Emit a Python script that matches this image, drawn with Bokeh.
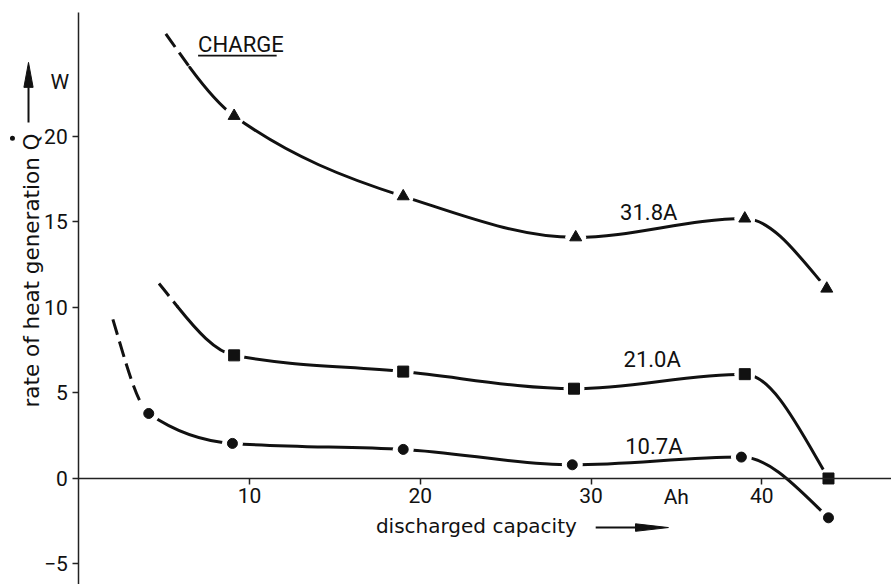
import numpy as np
from bokeh.plotting import figure
from bokeh.models import Range1d, FixedTicker
from bokeh.core.properties import value
from bokeh.embed import file_html
from bokeh.resources import INLINE

# ---------------- data ----------------
x_ticks = [10, 20, 30, 40]
y_ticks = [-5, 0, 5, 10, 15, 20]

cap_31_8 = [9.1, 19.0, 29.1, 39.0, 43.8]
heat_31_8 = [21.2, 16.5, 14.1, 15.2, 11.1]

cap_21_0 = [9.1, 19.0, 29.0, 39.0, 43.9]
heat_21_0 = [7.2, 6.25, 5.25, 6.1, 0.0]

cap_10_7 = [4.1, 9.0, 19.0, 28.9, 38.8, 43.9]
heat_10_7 = [3.8, 2.05, 1.7, 0.8, 1.25, -2.3]

# extrapolated (dashed) beginnings of the curves
ext_cap = [5.1, 4.7, 2.0]
ext_heat = [26.0, 11.4, 9.3]
dash_until = [6.5, 5.8, 4.1]

series_labels = ["31.8A", "21.0A", "10.7A"]
label_cap = [31.7, 31.9, 32.0]
label_heat = [15.15, 6.55, 1.46]

# ---------------- helpers ----------------
def pchip_slopes(x, y):
    x = np.asarray(x, float); y = np.asarray(y, float)
    h = np.diff(x); d = np.diff(y) / h
    n = len(x)
    m = np.zeros(n)
    for k in range(1, n - 1):
        if d[k - 1] * d[k] <= 0:
            m[k] = 0.0
        else:
            w1 = 2 * h[k] + h[k - 1]; w2 = h[k] + 2 * h[k - 1]
            m[k] = (w1 + w2) / (w1 / d[k - 1] + w2 / d[k])

    def end(h0, h1, d0, d1):
        s = ((2 * h0 + h1) * d0 - h0 * d1) / (h0 + h1)
        if np.sign(s) != np.sign(d0):
            s = 0.0
        elif np.sign(d0) != np.sign(d1) and abs(s) > abs(3 * d0):
            s = 3 * d0
        return s

    m[0] = end(h[0], h[1], d[0], d[1])
    m[-1] = end(h[-1], h[-2], d[-1], d[-2])
    return m


def lerp(a, b, t):
    return (a[0] + (b[0] - a[0]) * t, a[1] + (b[1] - a[1]) * t)


def curve_segments(x, y, split_x):
    """Hermite (PCHIP) curve as cubic Bezier pieces; first piece split at split_x."""
    m = pchip_slopes(x, y)
    dashed, solid = [], []
    for i in range(len(x) - 1):
        h = x[i + 1] - x[i]
        P0 = (x[i], y[i]); P3 = (x[i + 1], y[i + 1])
        P1 = (x[i] + h / 3, y[i] + m[i] * h / 3)
        P2 = (x[i + 1] - h / 3, y[i + 1] - m[i + 1] * h / 3)
        if i == 0:
            t = (split_x - x[0]) / h
            if t >= 0.999:
                dashed.append((P0, P3, P1, P2))
                continue
            P01 = lerp(P0, P1, t); P12 = lerp(P1, P2, t); P23 = lerp(P2, P3, t)
            P012 = lerp(P01, P12, t); P123 = lerp(P12, P23, t)
            P0123 = lerp(P012, P123, t)
            dashed.append((P0, P0123, P01, P012))
            solid.append((P0123, P3, P123, P23))
        else:
            solid.append((P0, P3, P1, P2))
    return dashed, solid


def seg_dict(segs):
    return dict(x0=[s[0][0] for s in segs], y0=[s[0][1] for s in segs],
                x1=[s[1][0] for s in segs], y1=[s[1][1] for s in segs],
                cx0=[s[2][0] for s in segs], cy0=[s[2][1] for s in segs],
                cx1=[s[3][0] for s in segs], cy1=[s[3][1] for s in segs])

# ---------------- figure ----------------
p = figure(width=891, height=584, x_range=Range1d(-4.58, 47.59), y_range=Range1d(-6.2, 27.95),
           output_backend="svg", toolbar_location=None, min_border=0)
p.grid.visible = False
p.outline_line_color = None
p.background_fill_color = "white"
p.border_fill_color = "white"

p.xaxis.fixed_location = 0
p.yaxis.fixed_location = 0
p.xaxis.ticker = FixedTicker(ticks=x_ticks)
p.yaxis.ticker = FixedTicker(ticks=y_ticks)
p.xaxis.bounds = (0, 60)
p.yaxis.bounds = (-10, 27.25)
TICK_FONT = "Roboto"
for ax in (p.xaxis, p.yaxis):
    ax.axis_line_color = "#222222"
    ax.axis_line_width = 1.5
    ax.major_tick_line_color = "#222222"
    ax.major_tick_line_width = 1.5
    ax.major_tick_out = 6
    ax.major_tick_in = 0
    ax.minor_tick_out = 0
    ax.minor_tick_in = 0
    ax.major_label_text_font = TICK_FONT
    ax.major_label_text_font_size = "21px"
    ax.major_label_text_color = "#111111"
p.xaxis.major_label_standoff = 4
p.yaxis.major_label_standoff = 5

FONT = value("Roboto")
DY = -7   # screen correction so that the alphabetic baseline sits where intended

series = [(cap_31_8, heat_31_8, "triangle", 12),
          (cap_21_0, heat_21_0, "square", 11),
          (cap_10_7, heat_10_7, "circle", 10)]

for k, (cx, cy, marker, msize) in enumerate(series):
    xs = [ext_cap[k]] + list(cx)
    ys = [ext_heat[k]] + list(cy)
    dashed, solid = curve_segments(xs, ys, dash_until[k])
    if dashed:
        p.bezier(line_color="#111111", line_width=3, line_dash="16 7", **seg_dict(dashed))
    if solid:
        p.bezier(line_color="#111111", line_width=3, line_cap="round", **seg_dict(solid))
    # white halo (gap in the line around each marker), then marker
    p.scatter(cx, cy, marker="circle", size=21, fill_color="white", line_color=None)
    p.scatter(cx, cy, marker=marker, size=msize, fill_color="#111111", line_color="#111111",
              line_width=1)

# series labels
p.text(x=label_cap, y=label_heat, text=series_labels, text_font=FONT, text_font_size="22px",
       text_color="#111111", text_align="left", text_baseline="alphabetic", y_offset=DY)

# CHARGE with underline
charge_x, charge_y = 6.99, 24.97
p.text(x=[charge_x], y=[charge_y], text=["CHARGE"], text_font=FONT, text_font_size="22px",
       text_color="#111111", text_align="left", text_baseline="alphabetic", y_offset=DY)
p.segment(x0=[charge_x], y0=[charge_y - 0.24], x1=[charge_x + 4.6], y1=[charge_y - 0.24],
          line_color="#111111", line_width=1.8)

# x axis unit and label with arrow
p.text(x=[34.25], y=[-1.52], text=["Ah"], text_font=FONT, text_font_size="21px",
       text_color="#111111", text_align="left", text_baseline="alphabetic", y_offset=DY)
p.text(x=[17.4], y=[-3.15], text=["discharged capacity"], text_font=value("DejaVu Sans"),
       text_font_size="20px", text_color="#111111", text_align="left", text_baseline="alphabetic",
       y_offset=DY + 1)
ax_arrow_x0, ax_arrow_xh, ax_arrow_x1, ax_arrow_y, ax_half = 30.27, 32.6, 34.53, -2.87, 0.22
p.segment(x0=[ax_arrow_x0], y0=[ax_arrow_y], x1=[ax_arrow_xh], y1=[ax_arrow_y],
          line_color="#111111", line_width=2)
p.patch(x=[ax_arrow_xh, ax_arrow_x1, ax_arrow_xh], y=[ax_arrow_y + ax_half, ax_arrow_y, ax_arrow_y - ax_half],
        fill_color="#111111", line_color="#111111", line_width=1)

# y axis label (rotated), dot of Q-dot, arrow and unit
p.text(x=[-2.3], y=[4.15], text=["rate of heat generation Q"], angle=np.pi / 2,
       text_font=value("DejaVu Sans"), text_font_size="21.5px", text_color="#111111",
       text_align="left", text_baseline="alphabetic", x_offset=-8)
p.scatter(x=[-3.88], y=[19.9], marker="circle", size=5, fill_color="#111111", line_color=None)
ya_x, ya_y0, ya_yh, ya_y1, ya_half = -2.94, 20.82, 22.87, 24.33, 0.27
p.segment(x0=[ya_x], y0=[ya_y0], x1=[ya_x], y1=[ya_yh], line_color="#111111", line_width=2)
p.patch(x=[ya_x - ya_half, ya_x, ya_x + ya_half], y=[ya_yh, ya_y1, ya_yh],
        fill_color="#111111", line_color="#111111", line_width=1)
p.text(x=[-1.65], y=[22.8], text=["W"], text_font=FONT, text_font_size="21px",
       text_color="#111111", text_align="left", text_baseline="alphabetic", y_offset=DY)

open("out.html", "w").write(file_html(p, INLINE))
